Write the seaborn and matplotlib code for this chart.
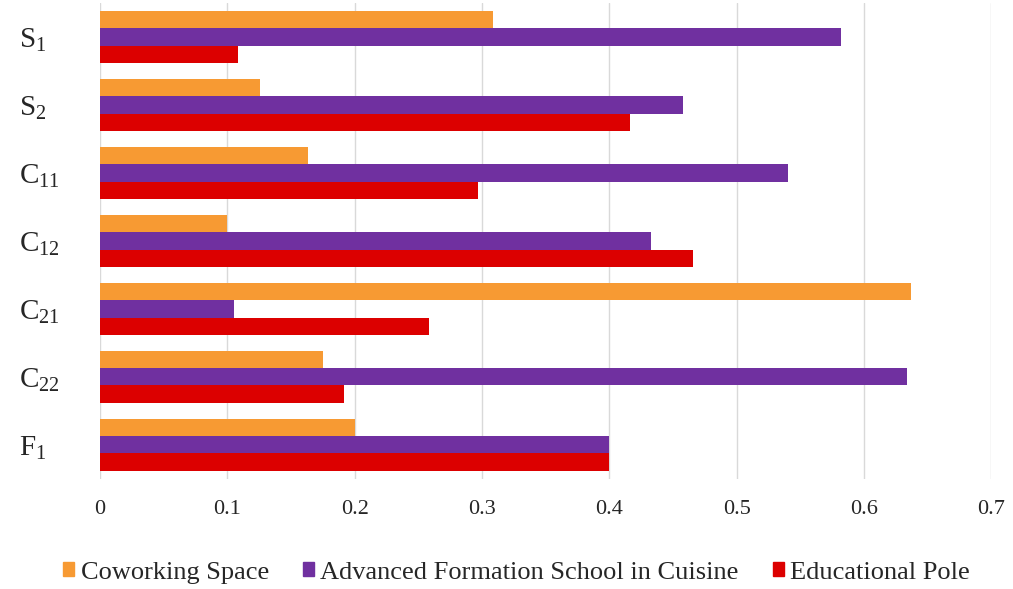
import matplotlib
matplotlib.use("Agg")
import matplotlib.pyplot as plt
import seaborn as sns
import pandas as pd

# Criteria (y axis) and the weight of each alternative
criteria = ["S_1", "S_2", "C_{11}", "C_{12}", "C_{21}", "C_{22}", "F_1"]
alternatives = ["Coworking Space", "Advanced Formation School in Cuisine", "Educational Pole"]
coworking = [0.309, 0.126, 0.163, 0.100, 0.637, 0.175, 0.200]
formation_school = [0.582, 0.458, 0.540, 0.433, 0.105, 0.634, 0.400]
educational_pole = [0.108, 0.416, 0.297, 0.466, 0.258, 0.192, 0.400]
x_ticks = [0, 0.1, 0.2, 0.3, 0.4, 0.5, 0.6, 0.7]
x_tick_labels = ["0", "0.1", "0.2", "0.3", "0.4", "0.5", "0.6", "0.7"]
colors = ["#F79A33", "#7030A0", "#DC0000"]

rows = []
for name, values in zip(alternatives, [coworking, formation_school, educational_pole]):
    for crit, v in zip(criteria, values):
        rows.append({"criterion": crit, "alternative": name, "weight": v})
df = pd.DataFrame(rows)

sns.set_theme(style="white")
plt.rcParams["font.family"] = ["Liberation Serif", "DejaVu Serif"]
plt.rcParams["mathtext.fontset"] = "custom"
plt.rcParams["mathtext.rm"] = "Liberation Serif"
plt.rcParams["mathtext.it"] = "Liberation Serif:italic"

fig = plt.figure(figsize=(10.13, 5.89), dpi=100)
ax = fig.add_axes([0.0987, 0.187, 0.880, 0.808])

sns.barplot(data=df, y="criterion", x="weight", hue="alternative",
            order=criteria, hue_order=alternatives, palette=colors,
            orient="h", width=0.76, saturation=1, linewidth=0, ax=ax, legend=True)

ax.set_xlim(0, 0.7)
ax.set_xticks(x_ticks)
ax.set_xticklabels(x_tick_labels, fontsize=16)


def crit_label(c):
    base, sub = c.split("_")
    return r"$\mathrm{%s}_{\mathrm{%s}}$" % (base, sub.strip("{}"))


ax.set_yticks(range(len(criteria)))
ax.set_yticklabels([crit_label(c) for c in criteria], fontsize=21)
for lab in ax.get_yticklabels():
    lab.set_ha("left")
ax.tick_params(axis="y", length=0, pad=58)
ax.tick_params(axis="x", length=0, pad=15)
ax.set_xlabel("")
ax.set_ylabel("")
ax.xaxis.grid(True, color="#D9D9D9", linewidth=1.0)
ax.set_axisbelow(True)
for s in ax.spines.values():
    s.set_visible(False)

ax.legend_.remove()
handles = [plt.Rectangle((0, 0), 1, 1, color=c) for c in colors]
fig.legend(handles, alternatives, loc="center", bbox_to_anchor=(0.51, 0.028),
           ncol=3, frameon=False, fontsize=19, handlelength=0.4, handleheight=0.4,
           handletextpad=0.25, columnspacing=1.3)

fig.savefig("out.png", dpi=100)
